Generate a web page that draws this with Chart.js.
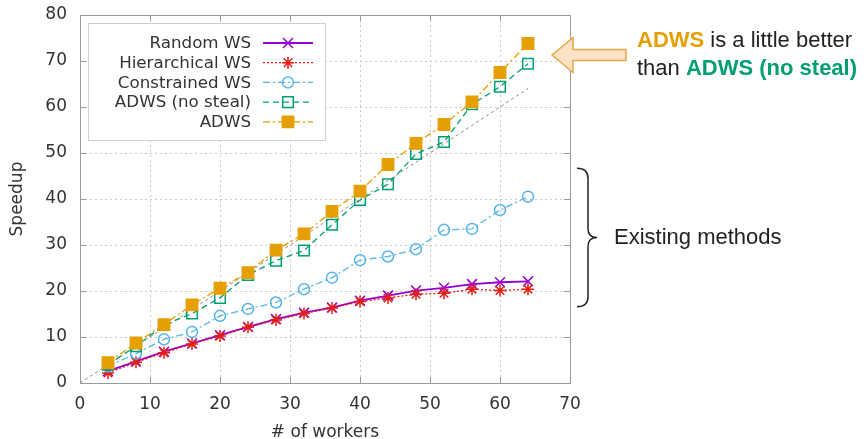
<!DOCTYPE html>
<html>
<head>
<meta charset="utf-8">
<script src="https://cdn.jsdelivr.net/npm/chart.js@4.4.1/dist/chart.umd.min.js"></script>
<style>
  body { margin: 0; background: #fff; }
</style>
</head>
<body>
<canvas id="speedup" width="868" height="439"></canvas>
<script>
// values
const workers = [4, 8, 12, 16, 20, 24, 28, 32, 36, 40, 44, 48, 52, 56, 60, 64];
const randomWS = [2.6, 4.7, 6.8, 8.6, 10.4, 12.2, 13.9, 15.3, 16.4, 17.9, 19.0, 20.1, 20.7, 21.5, 21.9, 22.1];
const hierarchicalWS = [2.2, 4.5, 6.6, 8.5, 10.2, 12.1, 13.7, 15.1, 16.3, 17.7, 18.5, 19.3, 19.5, 20.4, 20.1, 20.4];
const constrainedWS = [3.6, 6.4, 9.5, 11.1, 14.6, 16.1, 17.5, 20.4, 22.9, 26.7, 27.5, 29.1, 33.3, 33.5, 37.6, 40.5];
const adwsNoSteal = [4.0, 8.0, 12.6, 15.1, 18.5, 23.5, 26.6, 28.8, 34.4, 39.8, 43.2, 49.8, 52.4, 60.6, 64.4, 69.4];
const adws = [4.4, 8.7, 12.7, 17.0, 20.6, 24.0, 28.9, 32.4, 37.3, 41.7, 47.5, 52.1, 56.2, 61.1, 67.5, 73.8];
const idealX = [0, 64];
const idealY = [0, 64];
const xTicks = [0, 10, 20, 30, 40, 50, 60, 70];
const yTicks = [0, 10, 20, 30, 40, 50, 60, 70, 80];

const pts = (xs, ys) => xs.map((x, i) => ({ x: x, y: ys[i] }));

const frameColor = "#9a9a9a";
const textColor = "#333";

// gnuplot style: box round the plot, inward ticks on all four sides
const framePlugin = {
  id: "frame",
  afterDatasetsDraw(chart) {
    const { ctx, chartArea: a, scales } = chart;
    ctx.save();
    ctx.strokeStyle = frameColor;
    ctx.lineWidth = 1;
    ctx.setLineDash([]);
    ctx.strokeRect(a.left + 0.5, a.top + 0.5, a.right - a.left, a.bottom - a.top);
    ctx.beginPath();
    xTicks.forEach((t) => {
      const px = Math.round(scales.x.getPixelForValue(t)) + 0.5;
      ctx.moveTo(px, a.bottom); ctx.lineTo(px, a.bottom - 6);
      ctx.moveTo(px, a.top); ctx.lineTo(px, a.top + 6);
    });
    yTicks.forEach((t) => {
      const py = Math.round(scales.y.getPixelForValue(t)) + 0.5;
      ctx.moveTo(a.left, py); ctx.lineTo(a.left + 6, py);
      ctx.moveTo(a.right, py); ctx.lineTo(a.right - 6, py);
    });
    ctx.stroke();
    ctx.restore();
  },
};

// legend box in the top-left, text right aligned, sample on the right
const legendPlugin = {
  id: "gpLegend",
  afterDraw(chart) {
    const { ctx } = chart;
    const items = chart.data.datasets.filter((d) => d.label);
    const box = { left: 88, top: 23, right: 325, bottom: 140 };
    ctx.save();
    ctx.fillStyle = "#fff";
    ctx.fillRect(box.left, box.top, box.right - box.left, box.bottom - box.top);
    ctx.strokeStyle = "#cfcfcf";
    ctx.lineWidth = 1;
    ctx.strokeRect(box.left + 0.5, box.top + 0.5, box.right - box.left, box.bottom - box.top);
    items.forEach((d, i) => {
      const y = 43 + i * 19.7;
      ctx.font = "16.7px 'DejaVu Sans'";
      ctx.fillStyle = textColor;
      ctx.textAlign = "right";
      ctx.textBaseline = "middle";
      ctx.fillText(d.label, 251, y + 1);
      ctx.strokeStyle = d.borderColor;
      ctx.lineWidth = d.borderWidth;
      ctx.setLineDash(d.borderDash || []);
      ctx.beginPath();
      ctx.moveTo(263, y);
      ctx.lineTo(313, y);
      ctx.stroke();
      ctx.setLineDash([]);
      ctx.fillStyle = d.pointBackgroundColor;
      ctx.strokeStyle = d.pointBorderColor;
      ctx.lineWidth = d.pointBorderWidth;
      Chart.helpers.drawPoint(ctx, {
        pointStyle: d.pointStyle,
        radius: d.pointRadius,
        borderWidth: d.pointBorderWidth,
        rotation: 0,
      }, 288, y);
    });
    ctx.restore();
  },
};

// notes on the right of the plot
const notesPlugin = {
  id: "notes",
  afterDraw(chart) {
    const { ctx, chartArea: a, scales } = chart;
    const yTip = scales.y.getPixelForValue(71.3);
    const x0 = a.right - 18;
    ctx.save();
    // arrow pointing at the ADWS end points
    ctx.beginPath();
    ctx.moveTo(x0, yTip);
    ctx.lineTo(x0 + 21, yTip - 17.5);
    ctx.lineTo(x0 + 21, yTip - 5.5);
    ctx.lineTo(x0 + 74, yTip - 5.5);
    ctx.lineTo(x0 + 74, yTip + 5.5);
    ctx.lineTo(x0 + 21, yTip + 5.5);
    ctx.lineTo(x0 + 21, yTip + 17.5);
    ctx.closePath();
    ctx.fillStyle = "#fde2c6";
    ctx.fill();
    ctx.strokeStyle = "#e8a645";
    ctx.lineWidth = 1.5;
    ctx.stroke();

    ctx.textAlign = "left";
    ctx.textBaseline = "alphabetic";
    const tx = 637;
    ctx.font = "bold 22px 'Liberation Sans'";
    ctx.fillStyle = "#e69f00";
    ctx.fillText("ADWS", tx, 47);
    let w = ctx.measureText("ADWS").width;
    ctx.font = "22px 'Liberation Sans'";
    ctx.fillStyle = "#222";
    ctx.fillText(" is a little better", tx + w, 47);
    ctx.fillText("than ", tx, 75);
    w = ctx.measureText("than ").width;
    ctx.font = "bold 22px 'Liberation Sans'";
    ctx.fillStyle = "#009e73";
    ctx.fillText("ADWS (no steal)", tx + w, 75);

    // brace round the three existing methods
    const top = scales.y.getPixelForValue(46.7);
    const bot = scales.y.getPixelForValue(16.6);
    const mid = (top + bot) / 2;
    const bx = a.right + 7;
    ctx.beginPath();
    ctx.moveTo(bx, top);
    ctx.quadraticCurveTo(bx + 11, top, bx + 11, top + 10);
    ctx.lineTo(bx + 11, mid - 9);
    ctx.quadraticCurveTo(bx + 11, mid, bx + 20, mid);
    ctx.quadraticCurveTo(bx + 11, mid, bx + 11, mid + 9);
    ctx.lineTo(bx + 11, bot - 10);
    ctx.quadraticCurveTo(bx + 11, bot, bx, bot);
    ctx.strokeStyle = "#222";
    ctx.lineWidth = 1.5;
    ctx.stroke();
    ctx.font = "22px 'Liberation Sans'";
    ctx.fillStyle = "#222";
    ctx.fillText("Existing methods", 614, mid + 7);
    ctx.restore();
  },
};

const series = (label, ys, color, opts) => Object.assign({
  label: label,
  data: pts(workers, ys),
  borderColor: color,
  pointBorderColor: color,
  pointBackgroundColor: "rgba(0,0,0,0)",
  borderWidth: 1.3,
  pointBorderWidth: 1.5,
  pointRadius: 6,
  showLine: true,
}, opts);

new Chart(document.getElementById("speedup"), {
  type: "scatter",
  data: {
    datasets: [
      series("Random WS", randomWS, "#9400d3", { pointStyle: "crossRot", pointRadius: 7, borderWidth: 1.8, order: 5 }),
      series("Hierarchical WS", hierarchicalWS, "#e51e10", { pointStyle: "star", pointRadius: 6, borderDash: [2, 2], order: 4 }),
      series("Constrained WS", constrainedWS, "#56b4e9", { pointStyle: "circle", pointRadius: 5.5, borderDash: [7, 3, 2, 3], order: 3 }),
      series("ADWS (no steal)", adwsNoSteal, "#009e73", { pointStyle: "rect", pointRadius: 7.5, borderDash: [6, 4], order: 2 }),
      series("ADWS", adws, "#e69f00", { pointStyle: "rect", pointRadius: 8, pointBackgroundColor: "#e69f00", borderDash: [7, 3, 2, 3], order: 1 }),
      {
        data: pts(idealX, idealY),
        borderColor: "#8a8a8a",
        borderWidth: 1,
        borderDash: [3, 3],
        pointRadius: 0,
        showLine: true,
        order: 6,
      },
    ],
  },
  options: {
    responsive: false,
    animation: false,
    layout: { padding: { left: 0, right: 298, top: 15, bottom: 0 } },
    plugins: {
      legend: { display: false },
      tooltip: { enabled: false },
    },
    scales: {
      x: {
        type: "linear",
        min: 0,
        max: 70,
        afterFit: (scale) => { scale.height = 56; },
        afterBuildTicks: (scale) => { scale.ticks = xTicks.map((v) => ({ value: v })); },
        ticks: { color: textColor, font: { family: "DejaVu Sans", size: 17 }, padding: 0 },
        // invisible tick marks only push the labels away from the frame
        grid: { color: "#c8c8c8", drawTicks: true, tickLength: 11, tickColor: "rgba(0,0,0,0)" },
        border: { display: false, dash: [2, 3] },
        title: {
          display: true,
          text: "# of workers",
          color: textColor,
          font: { family: "DejaVu Sans", size: 17, lineHeight: 0.8 },
          padding: 0,
        },
      },
      y: {
        type: "linear",
        min: 0,
        max: 80,
        afterFit: (scale) => { scale.width = 80; },
        afterBuildTicks: (scale) => { scale.ticks = yTicks.map((v) => ({ value: v })); },
        ticks: { color: textColor, font: { family: "DejaVu Sans", size: 17 }, padding: 0 },
        grid: { color: "#c8c8c8", drawTicks: true, tickLength: 13, tickColor: "rgba(0,0,0,0)" },
        border: { display: false, dash: [2, 3] },
        title: {
          display: true,
          text: "Speedup",
          color: textColor,
          font: { family: "DejaVu Sans", size: 17 },
          padding: { top: 7, bottom: 0 },
        },
      },
    },
  },
  plugins: [framePlugin, legendPlugin, notesPlugin],
});
</script>
</body>
</html>
